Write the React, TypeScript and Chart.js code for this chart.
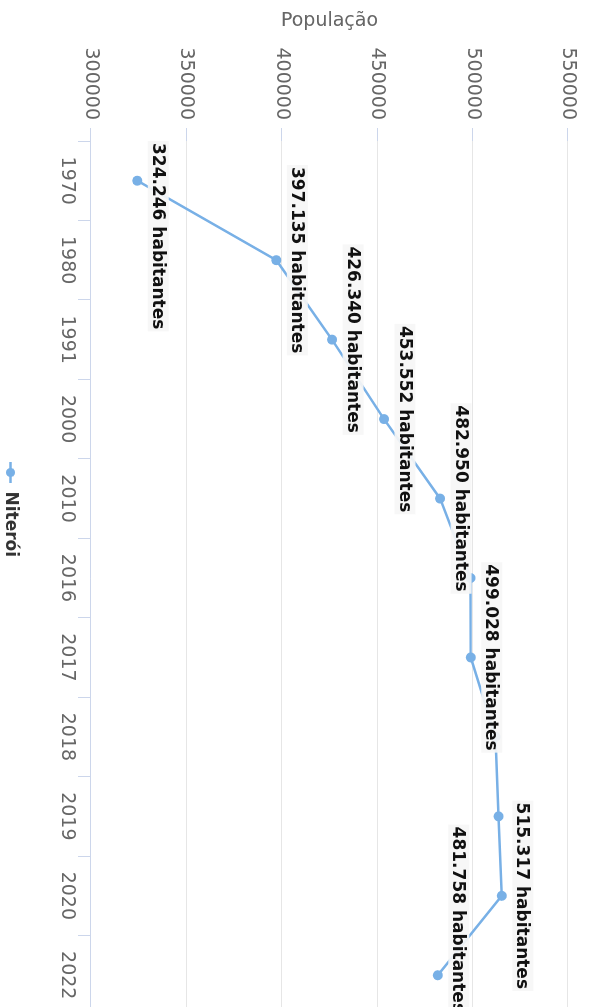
import React, { useEffect, useRef } from 'react';
import { Chart, registerables } from 'chart.js';

Chart.register(...registerables);

// ---- data ----
const years: string[] = ['1970', '1980', '1991', '2000', '2010', '2016', '2017', '2018', '2019', '2020', '2022'];
const population: number[] = [324246, 397135, 426340, 453552, 482950, 498900, 499028, 512000, 513600, 515317, 481758];
const seriesName = 'Niterói';
const axisTitle = 'População';
const labelSuffix = ' habitantes';
const yMin = 300000;
const yMax = 550000;
const yStep = 50000;

// ---- styles ----
const lineColor = '#78b0e6';
const tickColor = '#666666';
const gridColor = '#e6e6e6';
const axisColor = '#ccd6eb';
const labelColor = '#111111';
const labelBg = 'rgba(246,246,246,0.92)';
const FONT = '"DejaVu Sans", "Open Sans", sans-serif';

// canvas drawn landscape, then rotated 90deg clockwise
const W = 1020;
const H = 605;

function fmt(v: number): string {
  return String(v).replace(/\B(?=(\d{3})+(?!\d))/g, '.');
}

export default function App() {
  const ref = useRef<HTMLCanvasElement>(null);

  useEffect(() => {
    const canvas = ref.current;
    if (!canvas) return;

    const icon = document.createElement('canvas');
    icon.width = 21;
    icon.height = 11;
    const ic = icon.getContext('2d')!;
    ic.strokeStyle = lineColor;
    ic.lineWidth = 2.5;
    ic.beginPath();
    ic.moveTo(0, 5.5);
    ic.lineTo(21, 5.5);
    ic.stroke();
    ic.fillStyle = lineColor;
    ic.beginPath();
    ic.arc(10.5, 5.5, 4.5, 0, Math.PI * 2);
    ic.fill();

    const labelPlugin = {
      id: 'valueLabels',
      afterDatasetsDraw(chart: any) {
        const { ctx, chartArea } = chart;
        const meta = chart.getDatasetMeta(0);
        ctx.save();
        ctx.font = `bold 17px ${FONT}`;
        ctx.textBaseline = 'middle';
        ctx.textAlign = 'left';
        const placed: { x0: number; y0: number; x1: number; y1: number }[] = [];
        for (let i = meta.data.length - 1; i >= 0; i--) {
          const pt = meta.data[i];
          const text = fmt(population[i]) + labelSuffix;
          const tw = ctx.measureText(text).width;
          const bw = tw + 4;
          const bh = 21;
          let x0 = pt.x - bw / 2;
          x0 = Math.max(chartArea.left, Math.min(chartArea.right - bw, x0));
          const y0 = pt.y - 21 - bh / 2;
          const box = { x0, y0, x1: x0 + bw, y1: y0 + bh };
          const hit = placed.some(
            (b) => b.x0 < box.x1 && box.x0 < b.x1 && b.y0 < box.y1 && box.y0 < b.y1
          );
          if (hit) continue;
          placed.push(box);
          ctx.fillStyle = labelBg;
          ctx.fillRect(box.x0, box.y0, bw, bh);
          ctx.fillStyle = labelColor;
          ctx.fillText(text, box.x0 + 2, box.y0 + bh / 2 + 1);
        }
        ctx.restore();
      },
    };

    const chart = new Chart(canvas, {
      type: 'line',
      data: {
        labels: years,
        datasets: [
          {
            label: seriesName,
            data: population,
            borderColor: lineColor,
            backgroundColor: lineColor,
            borderWidth: 2.5,
            pointRadius: 5,
            pointBorderWidth: 0,
            pointBackgroundColor: lineColor,
            pointStyle: 'circle',
            tension: 0,
            fill: false,
          },
        ],
      },
      options: {
        responsive: false,
        animation: false,
        devicePixelRatio: 1,
        layout: { padding: { top: 29, right: 1, left: 0, bottom: 0 } },
        plugins: {
          title: { display: false },
          tooltip: { enabled: false },
          legend: {
            display: true,
            position: 'bottom',
            labels: {
              usePointStyle: true,
              pointStyle: icon as any,
              pointStyleWidth: 21,
              padding: 10,
              color: '#333333',
              font: { family: FONT, size: 17, weight: 'bold' },
              generateLabels: () => [
                {
                  text: seriesName,
                  pointStyle: icon as any,
                  fillStyle: lineColor,
                  strokeStyle: lineColor,
                  lineWidth: 0,
                  hidden: false,
                  datasetIndex: 0,
                  fontColor: '#333333',
                } as any,
              ],
            },
          },
        },
        scales: {
          x: {
            type: 'category',
            offset: true,
            afterFit: (s: any) => {
              s.height = 62;
            },
            border: { display: true, color: axisColor, width: 1 },
            grid: {
              display: true,
              drawOnChartArea: false,
              drawTicks: true,
              tickLength: 13,
              offset: true,
              tickColor: axisColor,
              color: axisColor,
            },
            ticks: {
              color: tickColor,
              padding: 0,
              maxRotation: 0,
              autoSkip: false,
              font: { family: FONT, size: 19 },
            },
          },
          y: {
            min: yMin,
            max: yMax,
            afterFit: (s: any) => {
              s.width = 141;
            },
            border: { display: false },
            grid: {
              color: gridColor,
              lineWidth: 1,
              tickLength: 13,
              tickColor: axisColor,
            },
            ticks: {
              stepSize: yStep,
              color: tickColor,
              padding: 8,
              font: { family: FONT, size: 19 },
              callback: (v: any) => String(v),
            },
            title: {
              display: true,
              text: axisTitle,
              color: tickColor,
              padding: { top: 10, bottom: 4 },
              font: { family: FONT, size: 19 },
            },
          },
        },
      },
      plugins: [labelPlugin],
    });

    return () => chart.destroy();
  }, []);

  return (
    <div
      style={{
        position: 'fixed',
        left: 0,
        top: 0,
        width: 597,
        height: 1007,
        overflow: 'hidden',
        background: '#ffffff',
      }}
    >
      <div
        style={{
          position: 'absolute',
          left: 0,
          top: 0,
          width: W,
          height: H,
          transformOrigin: '0 0',
          transform: 'translate(597px, 0px) rotate(90deg)',
        }}
      >
        <canvas ref={ref} width={W} height={H} style={{ display: 'block' }} />
      </div>
    </div>
  );
}
